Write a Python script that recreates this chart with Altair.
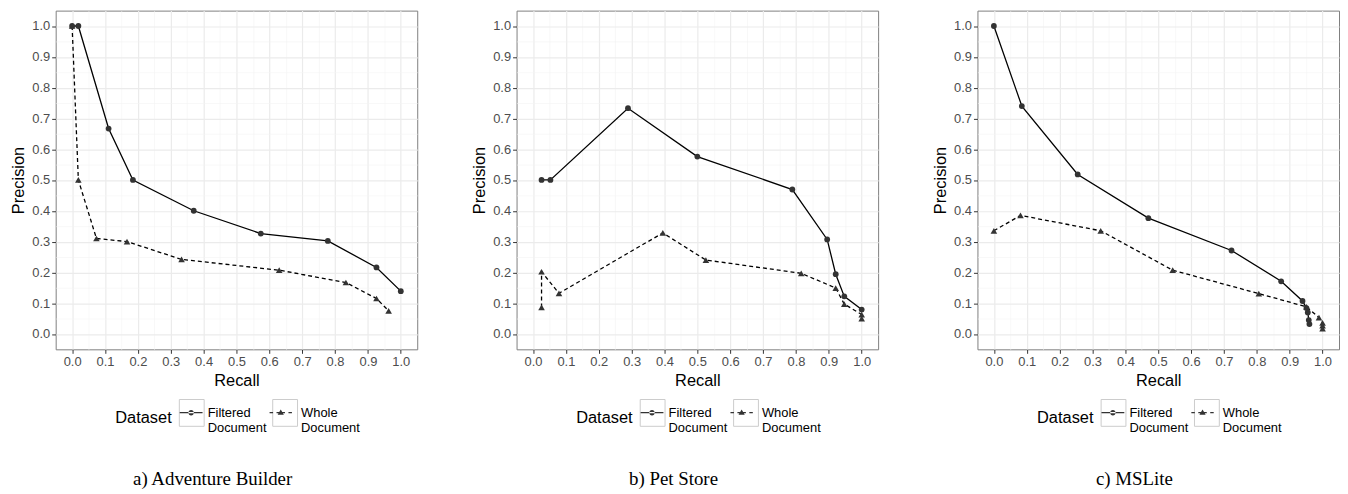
import altair as alt
import pandas as pd

FONT = "Liberation Sans"
SERIF = "Liberation Serif"
DATASETS = ["Filtered Document", "Whole Document"]
CAPTIONS = ["a) Adventure Builder", "b) Pet Store", "c) MSLite"]

# ---- Adventure Builder ----
ab_f_recall = [0.0, 0.019, 0.111, 0.185, 0.370, 0.574, 0.778, 0.926, 1.0]
ab_f_prec = [1.0, 1.0, 0.667, 0.5, 0.4, 0.326, 0.302, 0.216, 0.139]
ab_w_recall = [0.0, 0.019, 0.074, 0.167, 0.333, 0.630, 0.833, 0.926, 0.963]
ab_w_prec = [1.0, 0.5, 0.31, 0.30, 0.242, 0.207, 0.167, 0.115, 0.075]

# ---- Pet Store ----
ps_f_recall = [0.026, 0.053, 0.289, 0.5, 0.789, 0.895, 0.921, 0.947, 1.0]
ps_f_prec = [0.5, 0.5, 0.733, 0.576, 0.469, 0.307, 0.194, 0.122, 0.079]
ps_w_recall = [0.026, 0.026, 0.079, 0.395, 0.526, 0.816, 0.921, 0.947, 1.0, 1.0]
ps_w_prec = [0.086, 0.202, 0.132, 0.328, 0.24, 0.197, 0.149, 0.097, 0.063, 0.05]

# ---- MSLite ----
ms_f_recall = [0.0, 0.085, 0.255, 0.470, 0.723, 0.874, 0.939, 0.951, 0.955, 0.958, 0.960]
ms_f_prec = [1.0, 0.740, 0.518, 0.376, 0.271, 0.171, 0.107, 0.084, 0.070, 0.045, 0.032]
ms_w_recall = [0.0, 0.081, 0.325, 0.544, 0.806, 0.951, 0.989, 1.0, 1.0, 1.0]
ms_w_prec = [0.335, 0.385, 0.335, 0.207, 0.131, 0.088, 0.053, 0.036, 0.027, 0.017]

GRID_VALS = [round(0.05 * k, 2) for k in range(21)]
MAJOR = "abs(datum.value*10 - round(datum.value*10)) < 0.001"

# legend symbol paths (unit square coordinates)
BOX_PATH = "M-1,-1.08H1V1.08H-1Z"
PATH_F = ("M-0.92,-0.045H0.92V0.045H-0.92Z "
          "M-0.22,0A0.22,0.22,0,1,0,0.22,0A0.22,0.22,0,1,0,-0.22,0Z")
PATH_W = ("M-0.9,-0.045H-0.62V0.045H-0.9Z "
          "M-0.34,-0.045H0.34V0.045H-0.34Z "
          "M0.62,-0.045H0.9V0.045H0.62Z "
          "M0,-0.26L0.25,0.16L-0.25,0.16Z")

LEG_X = 60
LEG_Y = 392
TITLE_SIZE = 16.5
LABEL_SIZE = 13
TITLE_PAD = 7
LABEL_OFFSET = 3
COL_PAD = 3
# Arial/Liberation Sans advance widths (per 1000 em) of the legend title and longest label line
TITLE_W = 3.446 * TITLE_SIZE
LABEL_W = 4.557 * LABEL_SIZE


def make_df(fr, fp, wr, wp):
    rows = []
    for i, (r, p) in enumerate(zip(fr, fp)):
        rows.append({"Recall": r, "Precision": p, "Dataset": DATASETS[0], "Key": DATASETS[0], "idx": i})
    for i, (r, p) in enumerate(zip(wr, wp)):
        rows.append({"Recall": r, "Precision": p, "Dataset": DATASETS[1], "Key": DATASETS[1], "idx": i})
    return pd.DataFrame(rows)


def axis(title, orient):
    common = dict(
        values=GRID_VALS,
        format=".1f",
        labelExpr=f"{MAJOR} ? datum.label : ''",
        labelOverlap=False,
        labelFont=FONT,
        labelFontSize=13,
        labelColor="#4D4D4D",
        title=title,
        titleFont=FONT,
        titleFontSize=16.5,
        titleFontWeight="normal",
        titleColor="black",
        domain=False,
        grid=True,
        gridColor={"condition": {"test": MAJOR, "value": "#EBEBEB"}, "value": "#F4F4F4"},
        gridWidth={"condition": {"test": MAJOR, "value": 1.2}, "value": 0.6},
        tickColor={"condition": {"test": MAJOR, "value": "#333333"}, "value": "transparent"},
        tickSize=4,
        tickWidth=1,
    )
    if orient == "x":
        common.update(labelPadding=2, titlePadding=4)
    else:
        common.update(labelPadding=2, titlePadding=5)
    return alt.Axis(**common)


def panel(df, caption):
    base = alt.Chart(df)
    x = alt.X("Recall:Q", scale=alt.Scale(domain=[-0.05, 1.05], nice=False, zero=False), axis=axis("Recall", "x"))
    y = alt.Y("Precision:Q", scale=alt.Scale(domain=[-0.05, 1.05], nice=False, zero=False), axis=axis("Precision", "y"))

    filt = alt.datum.Dataset == DATASETS[0]
    whole = alt.datum.Dataset == DATASETS[1]

    line_f = base.transform_filter(filt).mark_line(color="black", strokeWidth=1.3).encode(
        x=x, y=y, order="idx:Q")
    line_w = base.transform_filter(whole).mark_line(color="black", strokeWidth=1.3, strokeDash=[4, 3]).encode(
        x=x, y=y, order="idx:Q")
    pts_f = base.transform_filter(filt).mark_point(shape="circle", filled=True, size=34, color="#333333", opacity=1).encode(x=x, y=y)
    pts_w = base.transform_filter(whole).mark_point(shape="triangle-up", filled=True, size=44, color="#333333", opacity=1).encode(x=x, y=y)

    # legend 1: key boxes + title + labels
    box_legend = alt.Legend(
        orient="none", legendX=LEG_X, legendY=LEG_Y, direction="horizontal",
        title="Dataset", titleOrient="left", titleFont=FONT, titleFontSize=TITLE_SIZE,
        titleFontWeight="normal", titleColor="black", titlePadding=TITLE_PAD,
        titleAnchor="middle", titleBaseline="middle",
        labelFont=FONT, labelFontSize=LABEL_SIZE, labelColor="black",
        labelExpr="split(datum.label, ' ')", labelBaseline="middle",
        labelOffset=LABEL_OFFSET, labelLimit=200, columnPadding=COL_PAD, padding=0,
        symbolOpacity=1, symbolType=BOX_PATH, symbolFillColor="transparent",
        symbolStrokeColor="#CCCCCC", symbolStrokeWidth=1,
    )
    # legend 2: line + marker glyphs drawn inside the key boxes
    sym_legend = alt.Legend(
        orient="none", legendX=LEG_X + TITLE_W + TITLE_PAD, legendY=LEG_Y, direction="horizontal",
        title=None, labelExpr="''", labelOffset=LABEL_OFFSET, labelFontSize=LABEL_SIZE,
        columnPadding=COL_PAD + LABEL_W, padding=0,
        symbolOpacity=1, symbolSize=625, symbolFillColor="#333333", symbolStrokeWidth=0,
    )

    leg_box = base.mark_point(opacity=0, filled=False, color="#CCCCCC").encode(
        x=x, y=y,
        size=alt.Size("Dataset:O", scale=alt.Scale(range=[625, 625]), legend=box_legend))
    leg_sym = base.mark_point(opacity=0, filled=True, color="#333333").encode(
        x=x, y=y,
        shape=alt.Shape("Key:N", scale=alt.Scale(range=[PATH_F, PATH_W]), legend=sym_legend))

    return alt.layer(line_f, line_w, pts_f, pts_w, leg_box, leg_sym).properties(
        width=364, height=341,
        title=alt.TitleParams(caption, orient="bottom", anchor="middle", font=SERIF,
                              fontSize=19, fontWeight="normal", color="black", offset=36, dx=-24),
    )


p1 = panel(make_df(ab_f_recall, ab_f_prec, ab_w_recall, ab_w_prec), CAPTIONS[0])
p2 = panel(make_df(ps_f_recall, ps_f_prec, ps_w_recall, ps_w_prec), CAPTIONS[1])
p3 = panel(make_df(ms_f_recall, ms_f_prec, ms_w_recall, ms_w_prec), CAPTIONS[2])

chart = alt.hconcat(p1, p2, p3, spacing=53).resolve_scale(
    size="independent", shape="independent"
).properties(
    padding={"left": 2, "top": 0, "right": 0, "bottom": 0},
    background="white",
).configure_view(stroke="#7F7F7F", strokeWidth=1)

chart.save("out.html", embed_options={"renderer": "svg", "actions": False})
